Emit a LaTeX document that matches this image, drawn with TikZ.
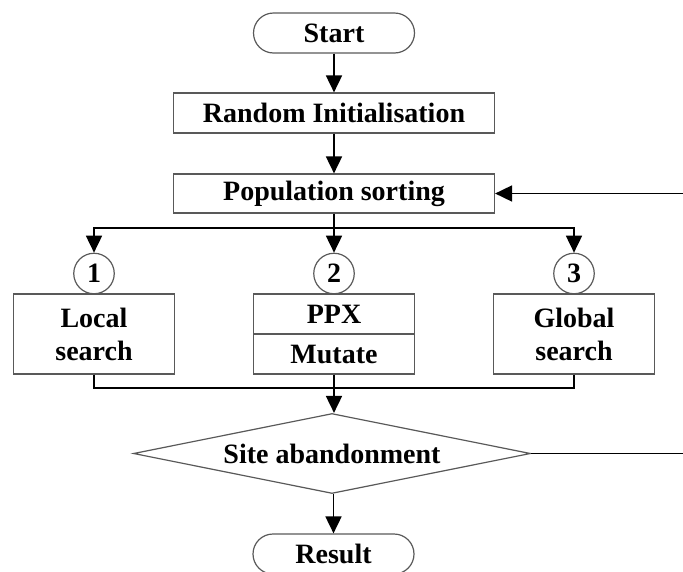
\documentclass[tikz,border=0pt]{standalone}
\usepackage{fontspec}
\setmainfont{Liberation Serif}
\usetikzlibrary{arrows.meta,shapes.geometric}
\tikzset{
  every node/.style={font=\bfseries\fontsize{28}{33}\selectfont, text=black},
  boxline/.style={draw=black!65, line width=1.2pt},
  procbox/.style={boxline, rectangle, inner sep=0pt, minimum width=#1},
  procbox/.default=321pt,
  terminal/.style={boxline, rectangle, rounded corners=20pt, inner sep=0pt,
    minimum width=161pt, minimum height=40pt},
  numcircle/.style={boxline, circle, inner sep=0pt, minimum size=40.5pt},
  decision/.style={boxline, diamond, aspect=5, inner sep=0pt,
    minimum width=397pt, minimum height=80pt},
  flow/.style={draw=black, line width=1.8pt,
    -{Triangle[width=16pt,length=17pt]}},
  flowplain/.style={draw=black, line width=1.8pt},
}
\begin{document}
\begin{tikzpicture}[x=1pt, y=-1pt]
  \useasboundingbox (0,0) rectangle (683,571);

  % terminals and main steps
  \node[terminal] (start) at (334,33) {Start};
  \node[procbox, minimum height=40pt] (init) at (334,113) {Random Initialisation};
  \node[procbox, minimum height=39pt] (sort) at (334,193.5) {Population sorting};

  % operator numbers
  \node[numcircle] (c1) at (94,273.5) {1};
  \node[numcircle] (c2) at (334,273.5) {2};
  \node[numcircle] (c3) at (574,273.5) {3};

  % search operators
  \node[procbox=160.5pt, minimum height=80pt, align=center] (local) at (94,334) {Local\\search};
  \node[procbox=161pt, minimum height=40pt] (ppx) at (334,314) {PPX};
  \node[procbox=161pt, minimum height=40pt] (mutate) at (334,354) {Mutate};
  \node[procbox=161pt, minimum height=80pt, align=center] (global) at (574,334) {Global\\search};

  % decision and result
  \node[decision] (abandon) at (332,453.5) {Site abandonment};
  \node[terminal] (result) at (333.5,554) {Result};

  % junction points
  \coordinate (split) at (334,228);
  \coordinate (merge) at (334,388);
  \coordinate (loop) at (700,453.5);

  % connectors
  \draw[flow] (start) -- (init);
  \draw[flow] (init) -- (sort);
  \draw[flow] (sort) -- (c2);
  \draw[flow] (split) -| (c1.north);
  \draw[flow] (split) -| (c3.north);
  \draw[flowplain] (local.south) |- (merge) -| (global.south);
  \draw[flow] (mutate.south) -- (abandon.north -| mutate.south);
  \draw[flow] (abandon.south -| result.north) -- (result.north);
  \draw[flow] (abandon.east) -- (loop) |- (sort.east);
\end{tikzpicture}
\end{document}
